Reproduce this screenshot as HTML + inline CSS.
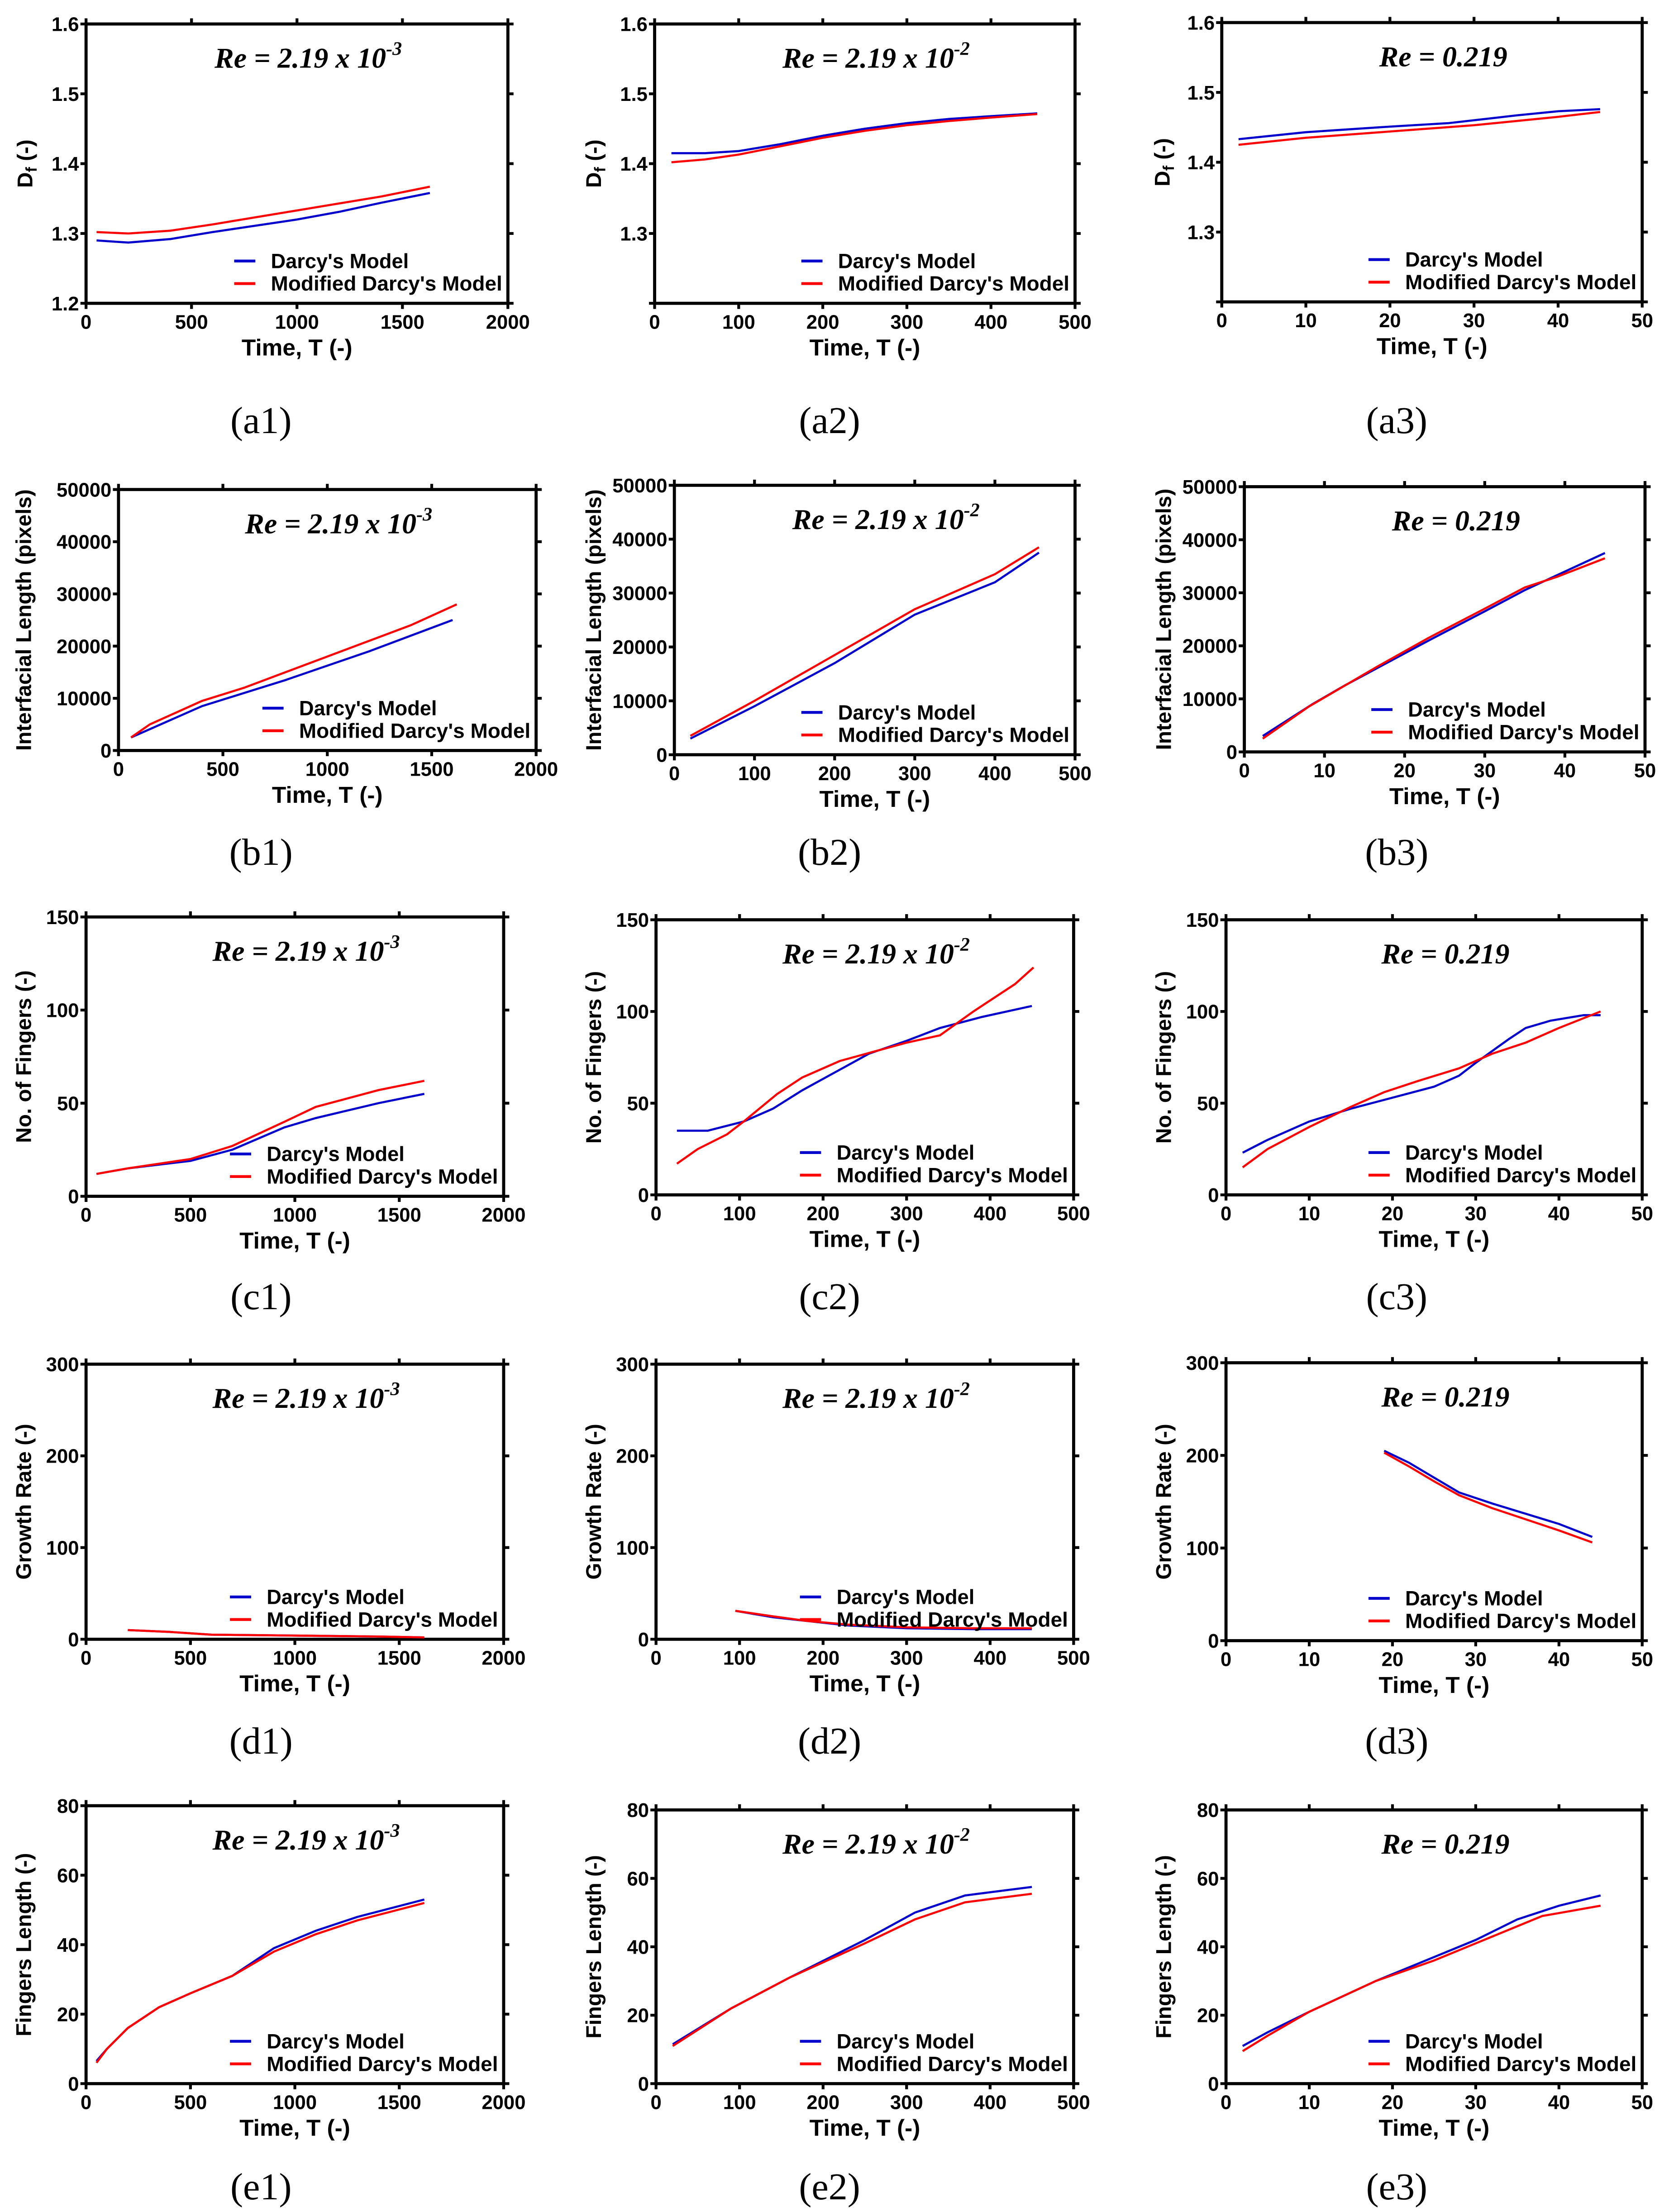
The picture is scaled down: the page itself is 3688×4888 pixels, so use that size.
<!DOCTYPE html>
<html><head><meta charset="utf-8"><style>
html,body{margin:0;padding:0;background:#fff;}
svg{display:block;}
text{font-family:"Liberation Sans",sans-serif;}
</style></head><body>
<svg id="fig" xmlns="http://www.w3.org/2000/svg" width="3688" height="4888" viewBox="0 0 1183 1568" preserveAspectRatio="none"></svg>
<script>
// ---- data ----
const a1Darcy = [[50,1.29],[200,1.287],[400,1.292],[600,1.302],[800,1.311],[1000,1.32],[1200,1.331],[1400,1.344],[1630,1.358]];
const a1Mod = [[50,1.302],[200,1.300],[400,1.304],[600,1.313],[800,1.323],[1000,1.333],[1200,1.343],[1400,1.353],[1630,1.367]];
const a2Darcy = [[20,1.415],[60,1.415],[100,1.418],[150,1.428],[200,1.44],[250,1.45],[300,1.458],[350,1.464],[400,1.468],[455,1.472]];
const a2Mod = [[20,1.402],[60,1.406],[100,1.413],[150,1.425],[200,1.437],[250,1.447],[300,1.455],[350,1.461],[400,1.466],[455,1.471]];
const a3Darcy = [[2,1.433],[10,1.443],[20,1.451],[27,1.456],[35,1.467],[40,1.473],[45,1.476]];
const a3Mod = [[2,1.425],[10,1.435],[20,1.444],[30,1.453],[40,1.465],[45,1.472]];
const b1Darcy = [[60,2500],[400,8500],[800,13500],[1200,19000],[1600,25000]];
const b1Mod = [[60,2500],[150,5000],[400,9500],[600,12000],[1000,18000],[1400,24000],[1620,28000]];
const b2Darcy = [[20,3000],[100,9000],[200,17000],[300,26000],[400,32000],[455,37500]];
const b2Mod = [[20,3500],[100,10000],[200,18500],[300,27000],[400,33500],[455,38500]];
const b3Darcy = [[2.3,3000],[8.5,9000],[12.5,12500],[23,21000],[30,26500],[35,30500],[40,34000],[45,37500]];
const b3Mod = [[2.3,2500],[8,8500],[16.5,16000],[23,21500],[30,27000],[35,31000],[39,33000],[45,36500]];
const c1Darcy = [[50,12],[200,15],[500,19],[700,25],[950,37],[1100,42],[1400,50],[1620,55]];
const c1Mod = [[50,12],[200,15],[500,20],[700,27],[950,40],[1100,48],[1400,57],[1620,62]];
const c2Darcy = [[25,35],[62,35],[105,40],[140,47],[175,57],[215,67],[255,77],[300,84],[340,91],[390,97],[450,103]];
const c2Mod = [[25,17],[50,25],[85,33],[105,40],[145,55],[175,64],[220,73],[260,78],[300,83],[340,87],[380,100],[430,115],[452,124]];
const c3Darcy = [[2,23],[5,30],[10,40],[15,47],[20,53],[25,59],[28,65],[30,72],[34,85],[36,91],[39,95],[43,98],[45,98]];
const c3Mod = [[2,15],[5,25],[10,37],[15,48],[19,56],[23,62],[28,69],[32,77],[36,83],[40,91],[45,100]];
const d1Darcy = [[200,10],[400,8],[600,5],[800,4.5],[1000,4],[1400,3],[1620,2]];
const d1Mod = [[200,10],[400,8],[600,5],[800,4.5],[1000,4],[1400,3],[1620,2]];
const d2Darcy = [[95,31],[140,24],[180,20],[230,15],[300,12],[380,11],[450,11]];
const d2Mod = [[95,31],[140,25],[180,20],[230,16],[300,13],[380,12],[450,12]];
const d3Darcy = [[19,205],[22,192],[25,176],[28,160],[32,148],[36,137],[40,126],[44,112]];
const d3Mod = [[19,203],[22,188],[25,172],[28,157],[32,143],[36,131],[40,119],[44,106]];
const e1Darcy = [[50,6.5],[100,10],[200,16],[350,22],[500,26],[700,31],[900,39],[1100,44],[1300,48],[1620,53]];
const e1Mod = [[50,6],[100,10],[200,16],[350,22],[500,26],[700,31],[900,38],[1100,43],[1300,47],[1620,52]];
const e2Darcy = [[20,11.5],[90,22],[160,31],[250,42],[310,50],[370,55],[450,57.5]];
const e2Mod = [[20,11],[90,22],[160,31],[250,41],[310,48],[370,53],[450,55.5]];
const e3Darcy = [[2,11],[5,15],[10,21],[18,30],[25,37],[30,42],[35,48],[40,52],[45,55]];
const e3Mod = [[2,9.5],[5,14],[10,21],[18,30],[25,36],[30,41],[35,46],[38,49],[45,52]];
const xTicks2000 = [0,500,1000,1500,2000];
const xTicks500 = [0,100,200,300,400,500];
const xTicks50 = [0,10,20,30,40,50];
const yTicksDf = [1.2,1.3,1.4,1.5,1.6];
const yTicksLen = [0,10000,20000,30000,40000,50000];
const yTicksFing = [0,50,100,150];
const yTicksGrow = [0,100,200,300];
const yTicksFL = [0,20,40,60,80];

const NS='http://www.w3.org/2000/svg';
const svg=document.getElementById('fig');
function mk(tag,attrs,parent,txt){const e=document.createElementNS(NS,tag);for(const k in attrs)e.setAttribute(k,attrs[k]);if(txt!==undefined)e.textContent=txt;(parent||svg).appendChild(e);return e;}

const panels=[
 {id:'a1',x0:61,x1:360,y0:17,y1:215,xr:[0,2000],yr:[1.2,1.6],xt:xTicks2000,yt:yTicksDf,yl:'Df',d:a1Darcy,m:a1Mod,re:'-3',lbl:298,ytx:17},
 {id:'a2',x0:464,x1:762,y0:17,y1:215,xr:[0,500],yr:[1.2,1.6],xt:xTicks500,yt:yTicksDf,yl:'Df',skip0:true,d:a2Darcy,m:a2Mod,re:'-2',lbl:298,ytx:420},
 {id:'a3',x0:866,x1:1164,y0:16,y1:214,xr:[0,50],yr:[1.2,1.6],xt:xTicks50,yt:yTicksDf,yl:'Df',skip0:true,d:a3Darcy,m:a3Mod,re:null,lbl:298,ytx:823},
 {id:'b1',x0:84,x1:380,y0:347,y1:532,xr:[0,2000],yr:[0,50000],xt:xTicks2000,yt:yTicksLen,yl:'Interfacial Length  (pixels)',d:b1Darcy,m:b1Mod,re:'-3',lbl:604,ytx:16},
 {id:'b2',x0:478,x1:762,y0:344,y1:535,xr:[0,500],yr:[0,50000],xt:xTicks500,yt:yTicksLen,yl:'Interfacial Length  (pixels)',d:b2Darcy,m:b2Mod,re:'-2',lbl:604,ytx:420},
 {id:'b3',x0:882,x1:1166,y0:345,y1:533,xr:[0,50],yr:[0,50000],xt:xTicks50,yt:yTicksLen,yl:'Interfacial Length  (pixels)',d:b3Darcy,m:b3Mod,re:null,lbl:604,ytx:824},
 {id:'c1',x0:61,x1:357,y0:650,y1:848,xr:[0,2000],yr:[0,150],xt:xTicks2000,yt:yTicksFing,yl:'No. of Fingers (-)',d:c1Darcy,m:c1Mod,re:'-3',lbl:919,ytx:16},
 {id:'c2',x0:465,x1:761,y0:652,y1:847,xr:[0,500],yr:[0,150],xt:xTicks500,yt:yTicksFing,yl:'No. of Fingers (-)',d:c2Darcy,m:c2Mod,re:'-2',lbl:919,ytx:420},
 {id:'c3',x0:869,x1:1164,y0:652,y1:847,xr:[0,50],yr:[0,150],xt:xTicks50,yt:yTicksFing,yl:'No. of Fingers (-)',d:c3Darcy,m:c3Mod,re:null,lbl:919,ytx:824},
 {id:'d1',x0:61,x1:357,y0:967,y1:1162,xr:[0,2000],yr:[0,300],xt:xTicks2000,yt:yTicksGrow,yl:'Growth  Rate (-)',d:d1Darcy,m:d1Mod,re:'-3',lbl:1234,ytx:16},
 {id:'d2',x0:465,x1:761,y0:967,y1:1162,xr:[0,500],yr:[0,300],xt:xTicks500,yt:yTicksGrow,yl:'Growth  Rate (-)',d:d2Darcy,m:d2Mod,re:'-2',lbl:1234,ytx:420},
 {id:'d3',x0:869,x1:1164,y0:966,y1:1163,xr:[0,50],yr:[0,300],xt:xTicks50,yt:yTicksGrow,yl:'Growth  Rate (-)',d:d3Darcy,m:d3Mod,re:null,lbl:1234,ytx:824},
 {id:'e1',x0:61,x1:357,y0:1280,y1:1477,xr:[0,2000],yr:[0,80],xt:xTicks2000,yt:yTicksFL,yl:'Fingers  Length (-)',d:e1Darcy,m:e1Mod,re:'-3',lbl:1550,ytx:16},
 {id:'e2',x0:465,x1:761,y0:1283,y1:1477,xr:[0,500],yr:[0,80],xt:xTicks500,yt:yTicksFL,yl:'Fingers  Length (-)',d:e2Darcy,m:e2Mod,re:'-2',lbl:1550,ytx:420},
 {id:'e3',x0:869,x1:1164,y0:1283,y1:1477,xr:[0,50],yr:[0,80],xt:xTicks50,yt:yTicksFL,yl:'Fingers  Length (-)',d:e3Darcy,m:e3Mod,re:null,lbl:1550,ytx:824}
];

panels.forEach(p=>{
 const g=mk('g',{});
 
 
 const sx=v=>p.x0+(v-p.xr[0])/(p.xr[1]-p.xr[0])*(p.x1-p.x0);
 const sy=v=>p.y1-(v-p.yr[0])/(p.yr[1]-p.yr[0])*(p.y1-p.y0);
 const fr=mk('rect',{x:p.x0,y:p.y0,width:p.x1-p.x0,height:p.y1-p.y0,fill:'none',stroke:'#000','stroke-width':2.2},g);
 
 
 p.xt.forEach(t=>{
  const x=sx(t);
  mk('line',{x1:x,y1:p.y1,x2:x,y2:p.y1+4,stroke:'#000','stroke-width':2},g);
  mk('line',{x1:x,y1:p.y0,x2:x,y2:p.y0-4,stroke:'#000','stroke-width':2},g);
  const tl=mk('text',{x:x,y:p.y1+18,'text-anchor':'middle','font-size':14,'font-weight':'bold'},g,String(t));
  
  
 });
 p.yt.forEach((t,i)=>{
  const y=sy(t);
  mk('line',{x1:p.x0,y1:y,x2:p.x0-4,y2:y,stroke:'#000','stroke-width':2},g);
  mk('line',{x1:p.x1,y1:y,x2:p.x1+4,y2:y,stroke:'#000','stroke-width':2},g);
  if(p.skip0&&i===0)return;
  const lab=(p.yl==='Df')?t.toFixed(1):String(t);
  const tl=mk('text',{x:p.x0-5,y:y+5,'text-anchor':'end','font-size':14,'font-weight':'bold'},g,lab);
  
  
 });
 const xt=mk('text',{x:(p.x0+p.x1)/2,y:p.y1+37,'text-anchor':'middle','font-size':16.5,'font-weight':'bold'},g,'Time,  T (-)');
 
 
 const cy=(p.y0+p.y1)/2;
 const yt=mk('text',{x:0,y:0,'text-anchor':'middle','font-size':15.3,'font-weight':'bold',transform:`translate(${p.ytx+6},${cy}) rotate(-90)`},g);
 
 
 if(p.yl==='Df'){yt.textContent='D';mk('tspan',{'font-size':11,dy:3},yt,'f');mk('tspan',{dy:-3},yt,' (-)');}
 else yt.textContent=p.yl;
 const tt=mk('text',{x:(p.x0+p.x1)/2+8,y:p.y0+31,'text-anchor':'middle','font-size':20.5,'font-weight':'bold','font-style':'italic',style:'font-family:"Liberation Serif",serif'},g);
 
 
 if(p.re){tt.textContent='Re = 2.19 x 10';mk('tspan',{'font-size':13.5,dy:-9},tt,p.re);}
 else tt.textContent='Re = 0.219';
 const path=pts=>pts.map((q,i)=>(i?'L':'M')+sx(q[0]).toFixed(2)+' '+sy(q[1]).toFixed(2)).join(' ');
 const ld=mk('path',{d:path(p.d),fill:'none',stroke:'#0000cc','stroke-width':1.5},g);
 
 
 const lm=mk('path',{d:path(p.m),fill:'none',stroke:'#ff0000','stroke-width':1.5},g);
 
 
 const lx=p.x1-168, ly1=p.y1-30, ly2=p.y1-14;
 const lg=mk('g',{},g);
 
 
 mk('line',{x1:lx-26,y1:ly1,x2:lx-11,y2:ly1,stroke:'#0000cc','stroke-width':2},lg);
 mk('line',{x1:lx-26,y1:ly2,x2:lx-11,y2:ly2,stroke:'#ff0000','stroke-width':2},lg);
 const t1=mk('text',{x:lx,y:ly1+5,'font-size':14.5,'font-weight':'bold'},lg,"Darcy's Model");
 
 
 const t2=mk('text',{x:lx,y:ly2+5,'font-size':14.5,'font-weight':'bold','textLength':164,'lengthAdjust':'spacingAndGlyphs'},lg,p.id[0]==='a'?"Modified  Darcy's Model":"Modified Darcy's Model");
 
 
 const pl=mk('text',{x:[185,588,990][+p.id[1]-1],y:p.lbl+9,'text-anchor':'middle','font-size':27,style:'font-family:"Liberation Serif",serif'},svg,'('+p.id+')');
 
 
});
</script>
</body></html>
